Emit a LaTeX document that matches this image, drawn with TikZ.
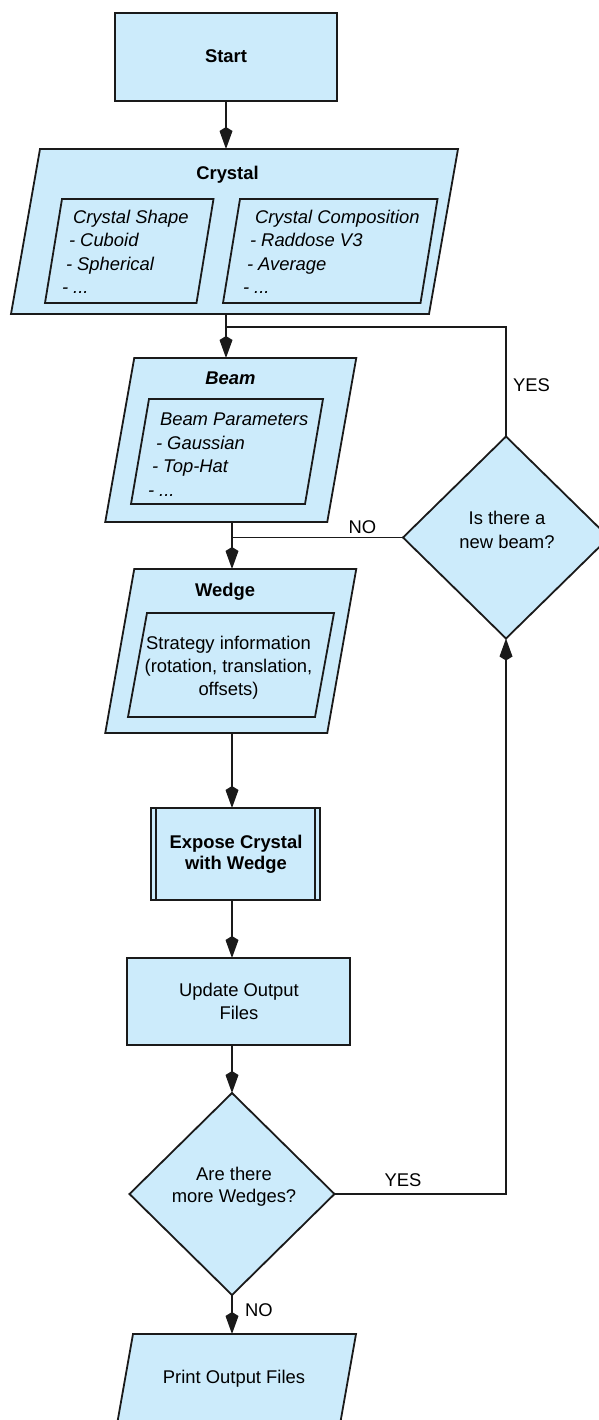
\documentclass[tikz,border=0pt]{standalone}
\usepackage{fontspec}
\setmainfont{Liberation Sans}
\usetikzlibrary{arrows.meta,calc,shapes.geometric}
\definecolor{boxfill}{HTML}{CCEBFB}
\definecolor{ink}{HTML}{1A1A1A}
\tikzset{
  shapeline/.style={draw=ink, line width=1.8pt, fill=boxfill, line join=miter},
  innerline/.style={draw=ink, line width=1.8pt, line join=miter},
  conn/.style={draw=ink, line width=1.8pt},
  arr/.style={conn, -{Kite[length=22pt,width=13pt,inset=4pt]}},
  txt/.style={inner sep=0pt, outer sep=0pt, text=black, font=\fontsize{18.4}{22}\selectfont},
  rectbox/.style={shapeline, rectangle, inner sep=0pt, outer sep=0pt},
  decision/.style={shapeline, diamond, inner sep=0pt, outer sep=0pt, aspect=1},
}
% name, cx, cy, width, height, half skew, style
\newcommand\pgram[7]{%
  \node[inner sep=0pt, outer sep=0pt, minimum width=#4pt, minimum height=#5pt] (#1) at (#2,#3) {};
  \path[#7] ([xshift=#6pt]#1.north west) -- ([xshift=#6pt]#1.north east)
     -- ([xshift=-#6pt]#1.south east) -- ([xshift=-#6pt]#1.south west) -- cycle;
}
\begin{document}
\begin{tikzpicture}[x=1pt,y=-1pt]
\useasboundingbox (0,0) rectangle (599,1420);
\clip (0,0) rectangle (599,1420);

% ---------- shapes ----------
\node[rectbox, minimum width=222pt, minimum height=88pt] (start) at (226,56.7) {};
\pgram{crystal}{234.5}{231.5}{418}{165}{14.5}{shapeline}
\pgram{cshape}{129.25}{251}{151.5}{104}{8.5}{innerline}
\pgram{ccomp}{330.25}{251}{197.5}{104}{8.5}{innerline}
\pgram{beam}{230.75}{440}{222}{164}{14.5}{shapeline}
\pgram{bparam}{227}{451.5}{174}{105}{9}{innerline}
\pgram{wedge}{230.75}{651}{222}{164}{14.5}{shapeline}
\pgram{strat}{231}{665}{187}{104}{9.5}{innerline}
\node[rectbox, minimum width=169pt, minimum height=92pt] (expose) at (235.5,854) {};
\draw[innerline] ([xshift=5pt]expose.north west) -- ([xshift=5pt]expose.south west);
\draw[innerline] ([xshift=-5pt]expose.north east) -- ([xshift=-5pt]expose.south east);
\node[rectbox, minimum width=223pt, minimum height=87pt] (update) at (238.5,1001.5) {};
\node[decision, minimum width=206pt, minimum height=202pt] (newbeam) at (506,537.5) {};
\node[decision, minimum width=205pt, minimum height=202pt] (morewedges) at (232,1194) {};
\pgram{print}{230}{1416}{223}{164}{14.5}{shapeline}

% ---------- connectors ----------
\coordinate (j1) at (226,327);
\coordinate (j2) at (232,537.5);
\draw[arr] (start.south) -- (start.south |- crystal.north);
\draw[conn] (crystal.south -| j1) -- (j1);
\draw[arr] (j1) -- (j1 |- beam.north);
\draw[conn] (newbeam.north) |- (j1);
\draw[conn] (beam.south -| j2) -- (j2);
\draw[conn] (newbeam.west) -- (j2);
\draw[arr] (j2) -- (j2 |- wedge.north);
\draw[arr] (wedge.south -| j2) -- (expose.north -| j2);
\draw[arr] (expose.south -| j2) -- (update.north -| j2);
\draw[arr] (update.south -| j2) -- (morewedges.north);
\draw[arr] (morewedges.east) -| (newbeam.south);
\draw[arr] (morewedges.south) -- (morewedges.south |- print.north);

% ---------- texts ----------
\node[txt, anchor=base] (tstart) at (226,62.5) {\bfseries Start};
\node[txt, anchor=base] (tcrystal) at (227.5,179.5) {\bfseries Crystal};
\node[txt, anchor=base west] (ts1) at (73,223.5) {\itshape Crystal Shape};
\node[txt, anchor=base west] (ts2) at (69,246.8) {\itshape - Cuboid};
\node[txt, anchor=base west] (ts3) at (66,270.1) {\itshape - Spherical};
\node[txt, anchor=base west] (ts4) at (62,293.4) {\itshape - ...};
\node[txt, anchor=base west] (tc1) at (255,223.5) {\itshape Crystal Composition};
\node[txt, anchor=base west] (tc2) at (250,246.8) {\itshape - Raddose V3};
\node[txt, anchor=base west] (tc3) at (247,270.1) {\itshape - Average};
\node[txt, anchor=base west] (tc4) at (243,293.4) {\itshape - ...};
\node[txt, anchor=base] (tbeam) at (230.5,384.5) {\bfseries\itshape Beam};
\node[txt, anchor=base west] (tb1) at (160,425.5) {\itshape Beam Parameters};
\node[txt, anchor=base west] (tb2) at (156,449) {\itshape - Gaussian};
\node[txt, anchor=base west] (tb3) at (152,472.5) {\itshape - Top-Hat};
\node[txt, anchor=base west] (tb4) at (148,496) {\itshape - ...};
\node[txt, anchor=base] (twedge) at (225,596) {\bfseries Wedge};
\node[txt, anchor=base] (tw1) at (228.5,649.5) {Strategy information};
\node[txt, anchor=base] (tw2) at (228.5,672.5) {(rotation, translation,};
\node[txt, anchor=base] (tw3) at (228.5,695.5) {offsets)};
\node[txt, anchor=base] (tnb1) at (507,524.5) {Is there a};
\node[txt, anchor=base] (tnb2) at (507,548) {new beam?};
\node[txt, anchor=base west] (tyes1) at (513,391) {YES};
\node[txt, anchor=base] (tno1) at (362.5,533.5) {NO};
\node[txt, anchor=base] (te1) at (236,848.5) {\bfseries Expose Crystal};
\node[txt, anchor=base] (te2) at (236,869.5) {\bfseries with Wedge};
\node[txt, anchor=base] (tu1) at (239,996.5) {Update Output};
\node[txt, anchor=base] (tu2) at (239,1019) {Files};
\node[txt, anchor=base] (tm1) at (234,1180) {Are there};
\node[txt, anchor=base] (tm2) at (234,1202.7) {more Wedges?};
\node[txt, anchor=base] (tyes2) at (403,1186) {YES};
\node[txt, anchor=base west] (tno2) at (245,1316.7) {NO};
\node[txt, anchor=base] (tprint) at (234,1383.5) {Print Output Files};
\end{tikzpicture}
\end{document}
